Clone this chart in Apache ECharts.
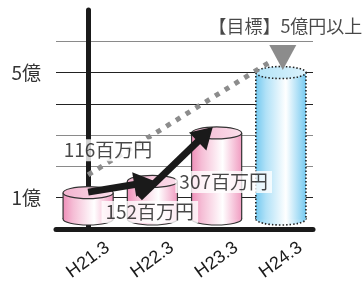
<!DOCTYPE html>
<html>
<head>
<meta charset="utf-8">
<script src="https://cdn.jsdelivr.net/npm/echarts@6/dist/echarts.min.js"></script>
<style>html,body{margin:0;padding:0;background:#fff}#c{width:362px;height:284px}</style>
</head>
<body>
<div id="c"></div>
<script>
// ---- data (values in 億円) ----
const categories = ['H21.3', 'H22.3', 'H23.3', 'H24.3'];
const actualValues = [1.16, 1.52, 3.07];          // 116, 152, 307 百万円
const targetValues = [null, null, null, 5];       // 目標 5億円以上
const valueLabels = ['116百万円', '152百万円', '307百万円'];
const targetLabel = '【目標】5億円以上';
const yTickLabels = { 1: '1億', 5: '5億' };
// annotation anchors in data units (x: category position, y: 億円)
const arrowSegments = [[0, 1.18, 1.04, 1.53], [0.8, 1.0, 1.94, 3.26]];
const trendLine = [[0, 1.73, 2.83, 5.34]];
const targetMarker = [[3.03, 5.08, 5.88]];
const labelAnchors = [[0.31, 2.52], [0.96, 0.54], [2.11, 1.5]];
const targetLabelAnchor = [3.07, 6.49];

const FONT = '"Noto Sans CJK JP", "Noto Sans", sans-serif';
const chart = echarts.init(document.getElementById('c'));

function cylinder(params, api, body, top, stroke, dash) {
  const v = api.value(1);
  if (v == null || isNaN(v)) return;
  const idx = api.value(0);
  const p = api.coord([idx, v]);
  const z = api.coord([idx, 0]);
  const w = api.size([1, 0])[0] * 0.78;
  const rx = w / 2, ry = 6;
  const cx = p[0], ty = p[1];
  const by = z[1] - 4 - ry;
  const grad = () => new echarts.graphic.LinearGradient(0, 0, 1, 0, body);
  const ls = { stroke: stroke, lineWidth: dash ? 1.6 : 1.2, lineDash: dash || null, fill: null };
  return {
    type: 'group',
    children: [
      { type: 'ellipse', shape: { cx: cx, cy: by, rx: rx, ry: ry }, style: Object.assign({}, ls, { fill: grad() }) },
      { type: 'rect', shape: { x: cx - rx, y: ty, width: w, height: by - ty }, style: { fill: grad() } },
      { type: 'line', shape: { x1: cx - rx, y1: ty, x2: cx - rx, y2: by }, style: ls },
      { type: 'line', shape: { x1: cx + rx, y1: ty, x2: cx + rx, y2: by }, style: ls },
      { type: 'ellipse', shape: { cx: cx, cy: ty, rx: rx, ry: ry },
        style: Object.assign({}, ls, { fill: new echarts.graphic.LinearGradient(0, 0, 1, 0, top) }) }
    ]
  };
}

const pinkBody = [
  { offset: 0, color: '#ee8fb9' }, { offset: 0.2, color: '#f5bdd5' },
  { offset: 0.62, color: '#ffffff' }, { offset: 1, color: '#f09cc1' }];
const pinkTop = [{ offset: 0, color: '#f3b3cf' }, { offset: 1, color: '#fbe0ec' }];
const blueBody = [
  { offset: 0, color: '#74c9f0' }, { offset: 0.2, color: '#b0e1f7' },
  { offset: 0.6, color: '#ffffff' }, { offset: 1, color: '#76caf0' }];
const blueTop = [{ offset: 0, color: '#b2e3f8' }, { offset: 1, color: '#dbf2fc' }];

chart.setOption({
  animation: false,
  grid: { left: 56, right: 49, top: 10, bottom: 55 },
  xAxis: [
    {
      type: 'category', data: categories,
      axisLine: { lineStyle: { color: '#1a1a1a', width: 5 } },
      axisTick: { show: false },
      axisLabel: { rotate: 36, align: 'center', verticalAlign: 'middle', margin: 31,
        fontSize: 18, color: '#1a1a1a', fontFamily: 'Liberation Sans, Arial, sans-serif' }
    },
    { type: 'value', min: -0.5, max: 3.5, show: false }
  ],
  yAxis: {
    type: 'value', min: 0, max: 7, interval: 1,
    axisLine: { show: true, lineStyle: { color: '#1a1a1a', width: 5 } },
    axisTick: { show: false },
    axisLabel: { margin: 15, fontSize: 19, color: '#333', fontFamily: FONT,
      formatter: v => yTickLabels[v] || '' },
    splitLine: { lineStyle: { width: 1.2,
      color: ['transparent', '#222', '#8a8a8a', '#8a8a8a', '#222', '#222', '#8a8a8a', 'transparent'] } }
  },
  series: [
    { type: 'custom', xAxisIndex: 0, data: actualValues.map((v, i) => [i, v]),
      renderItem: (p, api) => cylinder(p, api, pinkBody, pinkTop, '#333', null), z: 3 },
    { type: 'custom', xAxisIndex: 0, data: targetValues.map((v, i) => [i, v == null ? NaN : v]),
      renderItem: (p, api) => cylinder(p, api, blueBody, blueTop, '#222', [1.5, 2]), z: 3 },
    { type: 'custom', xAxisIndex: 1, data: trendLine, z: 4,
      renderItem: (p, api) => {
        const a = api.coord([api.value(0), api.value(1)]);
        const b = api.coord([api.value(2), api.value(3)]);
        return { type: 'line', shape: { x1: a[0], y1: a[1], x2: b[0], y2: b[1] },
          style: { stroke: '#8c8c8c', lineWidth: 5, lineDash: [5, 6.5], lineCap: 'butt' } };
      } },
    { type: 'custom', xAxisIndex: 1, data: targetMarker, z: 4,
      renderItem: (p, api) => {
        const tip = api.coord([api.value(0), api.value(1)]);
        const topY = api.coord([api.value(0), api.value(2)])[1];
        const hw = 13.5;
        return { type: 'polygon', shape: { points: [[tip[0] - hw, topY], [tip[0] + hw, topY], tip] },
          style: { fill: '#8c8c8c' } };
      } },
    { type: 'custom', xAxisIndex: 1, data: arrowSegments, z: 5,
      renderItem: (p, api) => {
        const a = api.coord([api.value(0), api.value(1)]);
        const b = api.coord([api.value(2), api.value(3)]);
        const dx = b[0] - a[0], dy = b[1] - a[1];
        const len = Math.sqrt(dx * dx + dy * dy);
        const ux = dx / len, uy = dy / len;
        const hl = 21, hw = 12.5;
        const bx = b[0] - ux * hl, by = b[1] - uy * hl;
        return { type: 'group', children: [
          { type: 'line', shape: { x1: a[0], y1: a[1], x2: bx + ux * 2, y2: by + uy * 2 },
            style: { stroke: '#1a1a1a', lineWidth: 7 } },
          { type: 'polygon', shape: { points: [[bx - uy * hw, by + ux * hw], [bx + uy * hw, by - ux * hw], b] },
            style: { fill: '#1a1a1a' } }
        ] };
      } },
    { type: 'scatter', xAxisIndex: 1, symbolSize: 0, z: 6,
      data: labelAnchors.map((a, i) => ({ value: a, name: valueLabels[i] })),
      label: { show: true, position: 'inside', formatter: '{b}', fontSize: 19, color: '#1a1a1a',
        fontFamily: FONT, backgroundColor: '#fff', padding: [2, 4, 1, 4] } },
    { type: 'scatter', xAxisIndex: 1, symbolSize: 0, z: 6,
      data: [{ value: targetLabelAnchor, name: targetLabel }],
      label: { show: true, position: 'inside', formatter: '{b}', fontSize: 18, color: '#1a1a1a',
        fontFamily: FONT } }
  ]
});
</script>
</body>
</html>
